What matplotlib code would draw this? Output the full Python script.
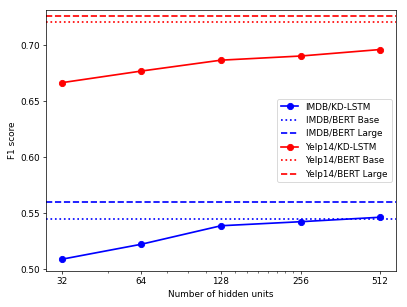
import numpy as np
import matplotlib
matplotlib.use('Agg')
import matplotlib.pyplot as plt
from matplotlib.ticker import FixedLocator, NullFormatter

# Данные
hidden_units = [32, 64, 128, 256, 512]
imdb_kd_lstm = [0.5088, 0.5222, 0.5387, 0.5423, 0.5463]
imdb_bert_base = 0.5444
imdb_bert_large = 0.5603
yelp_kd_lstm = [0.6665, 0.6769, 0.6866, 0.6903, 0.6961]
yelp_bert_base = 0.7207
yelp_bert_large = 0.7260

fig = plt.figure(figsize=(407 / 64, 307 / 64), dpi=64)
ax = fig.add_axes([0.113, 0.117, 0.86, 0.85])

lw = 1.9
ax.plot(hidden_units, imdb_kd_lstm, 'b-o', lw=lw, ms=7, label='IMDB/KD-LSTM')
ax.axhline(imdb_bert_base, color='b', linestyle=':', lw=lw, label='IMDB/BERT Base')
ax.axhline(imdb_bert_large, color='b', linestyle='--', lw=lw, label='IMDB/BERT Large')
ax.plot(hidden_units, yelp_kd_lstm, 'r-o', lw=lw, ms=7, label='Yelp14/KD-LSTM')
ax.axhline(yelp_bert_base, color='r', linestyle=':', lw=lw, label='Yelp14/BERT Base')
ax.axhline(yelp_bert_large, color='r', linestyle='--', lw=lw, label='Yelp14/BERT Large')

ax.set_xscale('log', base=2)
ax.set_xticks(hidden_units)
ax.set_xticklabels([str(h) for h in hidden_units])
minor = [m for m in np.arange(48, 256, 16) if m not in hidden_units]
ax.xaxis.set_minor_locator(FixedLocator(minor))
ax.xaxis.set_minor_formatter(NullFormatter())

ax.set_xlabel('Number of hidden units')
ax.set_ylabel('F1 score')
ax.legend(loc='center right')

fig.savefig('out.png', dpi=64)
